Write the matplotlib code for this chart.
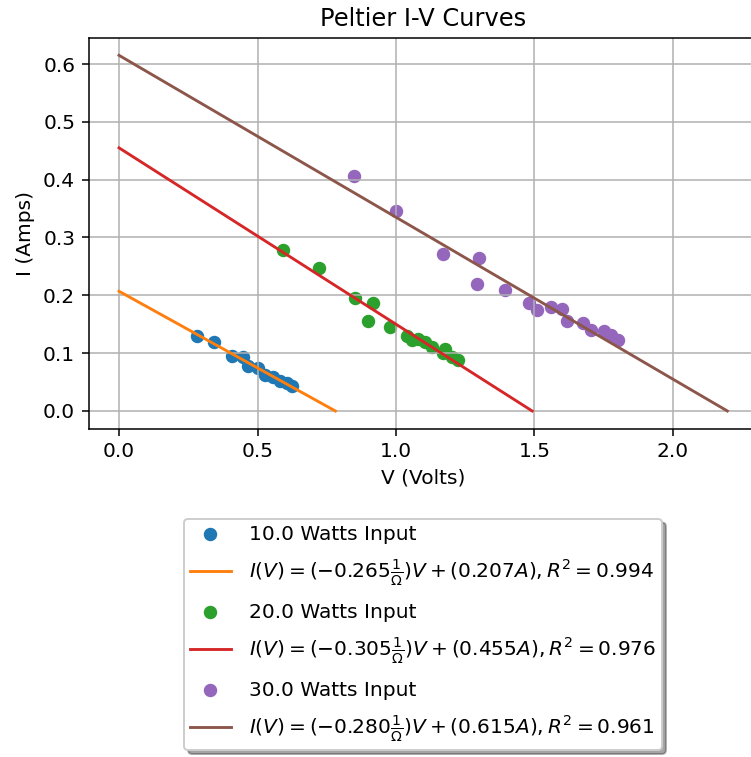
import numpy as np
import matplotlib
matplotlib.use("Agg")
import matplotlib.pyplot as plt

# measured data, 10 W input
v10 = [0.280, 0.344, 0.407, 0.449, 0.467, 0.503, 0.527, 0.557, 0.581, 0.605, 0.623]
i10 = [0.130, 0.120, 0.095, 0.094, 0.078, 0.074, 0.062, 0.059, 0.051, 0.048, 0.043]

# 20 W input
v20 = [0.591, 0.722, 0.852, 0.918, 0.900, 0.978, 1.039, 1.057, 1.081, 1.105,
       1.129, 1.177, 1.171, 1.201, 1.225]
i20 = [0.279, 0.248, 0.196, 0.186, 0.155, 0.146, 0.129, 0.123, 0.124, 0.120,
       0.111, 0.108, 0.100, 0.094, 0.088]

# 30 W input
v30 = [0.848, 1.000, 1.168, 1.300, 1.291, 1.394, 1.480, 1.508, 1.558, 1.601,
       1.616, 1.674, 1.703, 1.751, 1.778, 1.803]
i30 = [0.407, 0.346, 0.272, 0.265, 0.220, 0.209, 0.186, 0.175, 0.179, 0.176,
       0.156, 0.152, 0.140, 0.139, 0.131, 0.123]

powers = [10.0, 20.0, 30.0]
slopes = [-0.265, -0.305, -0.280]
intercepts = [0.207, 0.455, 0.615]
r2 = [0.994, 0.976, 0.961]

plt.rcParams['font.size'] = 10.5

dpi = 138
fig = plt.figure(figsize=(751 / dpi, 757 / dpi), dpi=dpi)
ax = fig.add_axes([0.118, 0.4336, 0.891, 0.5168])

data = [(v10, i10), (v20, i20), (v30, i30)]
pt_colors = ['C0', 'C2', 'C4']
ln_colors = ['C1', 'C3', 'C5']

for k in range(3):
    v, i = data[k]
    ax.scatter(v, i, color=pt_colors[k], label='%.1f Watts Input' % powers[k])
    m, b = slopes[k], intercepts[k]
    xs = np.array([0.0, -b / m])
    lab = r'$I(V) = (%.3f \frac{1}{\Omega})V + (%.3f A), R^2 = %.3f$' % (m, b, r2[k])
    ax.plot(xs, m * xs + b, color=ln_colors[k], label=lab)

ax.set_title('Peltier I-V Curves')
ax.set_xlabel('V (Volts)')
ax.set_ylabel('I (Amps)')
ax.set_xticks([0.0, 0.5, 1.0, 1.5, 2.0])
ax.grid(True)
ax.legend(loc='upper center', bbox_to_anchor=(0.5, -0.23), shadow=True,
          borderaxespad=0, borderpad=0.3, labelspacing=0.71, handletextpad=0.9)

fig.savefig('out.png', dpi=dpi)
